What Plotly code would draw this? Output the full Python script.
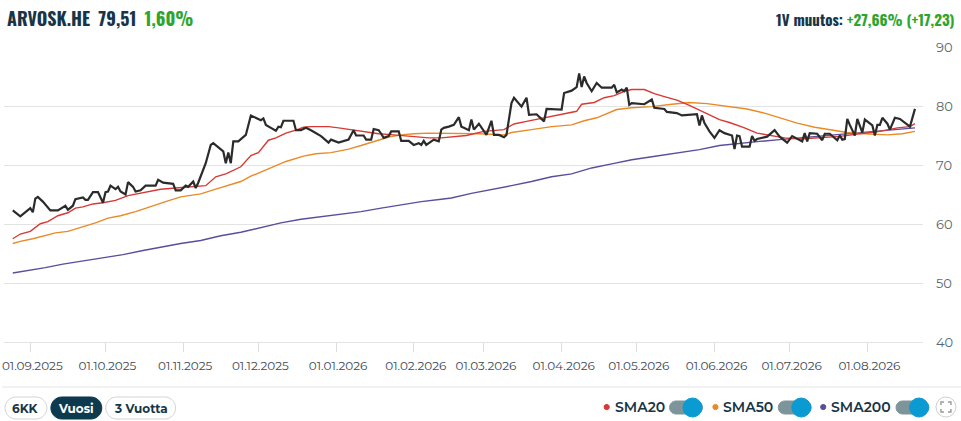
import plotly.graph_objects as go

# price (close)
price_dates = [
    "2025-08-25", "2025-08-28", "2025-09-01", "2025-09-02", "2025-09-03", "2025-09-04", "2025-09-06",
    "2025-09-09", "2025-09-12", "2025-09-15", "2025-09-16", "2025-09-18", "2025-09-19", "2025-09-22",
    "2025-09-23", "2025-09-24", "2025-09-26", "2025-09-28", "2025-09-30", "2025-10-01", "2025-10-02",
    "2025-10-03", "2025-10-05", "2025-10-06", "2025-10-07", "2025-10-09", "2025-10-10", "2025-10-12",
    "2025-10-13", "2025-10-15", "2025-10-17", "2025-10-21", "2025-10-22", "2025-10-24", "2025-10-28",
    "2025-10-29", "2025-10-31", "2025-11-02", "2025-11-03", "2025-11-05", "2025-11-06", "2025-11-07",
    "2025-11-10", "2025-11-12", "2025-11-13", "2025-11-17", "2025-11-18", "2025-11-19", "2025-11-20",
    "2025-11-21", "2025-11-23", "2025-11-25", "2025-11-26", "2025-11-28", "2025-11-30", "2025-12-02",
    "2025-12-03", "2025-12-04", "2025-12-06", "2025-12-08", "2025-12-09", "2025-12-10", "2025-12-11",
    "2025-12-15", "2025-12-16", "2025-12-18", "2025-12-20", "2025-12-22", "2025-12-26", "2025-12-29",
    "2025-12-30", "2026-01-02", "2026-01-06", "2026-01-07", "2026-01-08", "2026-01-09", "2026-01-12",
    "2026-01-13", "2026-01-15", "2026-01-16", "2026-01-18", "2026-01-19", "2026-01-20", "2026-01-22",
    "2026-01-23", "2026-01-26", "2026-01-27", "2026-01-30", "2026-02-01", "2026-02-03", "2026-02-04",
    "2026-02-05", "2026-02-06", "2026-02-09", "2026-02-11", "2026-02-12", "2026-02-13", "2026-02-15",
    "2026-02-17", "2026-02-19", "2026-02-20", "2026-02-21", "2026-02-23", "2026-02-24", "2026-02-25",
    "2026-02-27", "2026-02-28", "2026-03-02", "2026-03-04", "2026-03-05", "2026-03-07", "2026-03-09",
    "2026-03-10", "2026-03-12", "2026-03-13", "2026-03-16", "2026-03-18", "2026-03-19", "2026-03-22",
    "2026-03-25", "2026-03-26", "2026-04-01", "2026-04-02", "2026-04-05", "2026-04-07", "2026-04-08",
    "2026-04-09", "2026-04-10", "2026-04-11", "2026-04-13", "2026-04-15", "2026-04-17", "2026-04-21",
    "2026-04-22", "2026-04-23", "2026-04-25", "2026-04-26", "2026-04-27", "2026-04-28", "2026-04-29",
    "2026-05-04", "2026-05-07", "2026-05-08", "2026-05-12", "2026-05-13", "2026-05-17", "2026-05-19",
    "2026-05-25", "2026-05-26", "2026-05-27", "2026-05-28", "2026-05-30", "2026-06-01", "2026-06-03",
    "2026-06-05", "2026-06-08", "2026-06-09", "2026-06-10", "2026-06-11", "2026-06-12", "2026-06-15",
    "2026-06-16", "2026-06-17", "2026-06-18", "2026-06-22", "2026-06-25", "2026-06-27", "2026-06-30",
    "2026-07-02", "2026-07-04", "2026-07-06", "2026-07-07", "2026-07-08", "2026-07-09", "2026-07-12",
    "2026-07-14", "2026-07-15", "2026-07-17", "2026-07-19", "2026-07-20", "2026-07-21", "2026-07-22",
    "2026-07-23", "2026-07-24", "2026-07-25", "2026-07-27", "2026-07-28", "2026-07-30", "2026-07-31",
    "2026-08-02", "2026-08-03", "2026-08-04", "2026-08-05", "2026-08-06", "2026-08-07", "2026-08-09",
    "2026-08-10", "2026-08-12", "2026-08-14", "2026-08-18", "2026-08-20",
]
price = [
    62.3, 61.3, 62.7, 62.0, 64.3, 64.6, 63.8,
    62.3, 62.3, 63.1, 62.4, 63.1, 64.2, 64.5,
    64.1, 64.1, 65.4, 65.4, 63.6, 65.4, 65.5,
    66.5, 65.9, 66.3, 65.5, 65.0, 67.1, 66.3,
    65.5, 65.7, 66.5, 66.5, 67.5, 67.0, 66.8,
    65.7, 65.7, 66.5, 66.3, 67.2, 66.1, 67.0,
    70.3, 73.4, 73.7, 72.3, 70.3, 72.1, 70.3,
    74.0, 74.0, 74.8, 75.1, 78.4, 78.0, 77.6,
    77.9, 76.8, 76.3, 75.8, 76.5, 76.4, 77.5,
    77.5, 75.9, 75.9, 76.3, 75.9, 74.9, 73.8,
    74.3, 73.8, 74.3, 75.0, 75.9, 75.0, 75.0,
    74.3, 74.3, 76.1, 75.9, 75.3, 74.6, 74.9,
    75.7, 75.7, 74.1, 74.1, 73.4, 73.7, 73.4,
    74.1, 73.4, 74.3, 74.0, 76.0, 76.3, 76.5,
    76.8, 78.1, 76.5, 76.3, 75.9, 77.7, 76.0,
    77.0, 76.3, 75.1, 77.5, 75.1, 75.1, 74.7,
    75.1, 80.5, 81.4, 79.9, 81.4, 78.5, 78.6,
    77.4, 79.5, 79.4, 82.2, 82.6, 83.2, 85.5,
    83.2, 85.0, 83.9, 82.5, 83.9, 83.1, 83.1,
    83.6, 82.3, 82.8, 82.5, 83.1, 80.2, 80.5,
    80.3, 81.1, 79.7, 79.5, 79.0, 78.8, 78.4,
    78.6, 76.7, 78.4, 77.1, 75.7, 74.6, 75.9,
    75.4, 75.0, 72.7, 75.0, 74.9, 73.1, 73.1,
    74.9, 74.1, 74.4, 74.8, 75.9, 74.8, 73.8,
    74.9, 74.4, 74.0, 75.4, 74.0, 75.4, 75.3,
    74.2, 75.3, 75.3, 74.6, 74.2, 75.0, 74.3,
    74.4, 77.8, 76.8, 75.0, 77.8, 75.5, 77.7,
    77.0, 76.7, 75.0, 76.8, 76.8, 78.0, 77.0,
    76.0, 78.0, 77.8, 76.5, 79.51,
]

sma20_dates = [
    "2025-08-25", "2025-08-28", "2025-09-01", "2025-09-05", "2025-09-08", "2025-09-12", "2025-09-16",
    "2025-09-19", "2025-09-22", "2025-09-26", "2025-09-30", "2025-10-05", "2025-10-10", "2025-10-17",
    "2025-10-23", "2025-10-29", "2025-11-03", "2025-11-10", "2025-11-14", "2025-11-18", "2025-11-24",
    "2025-11-28", "2025-12-01", "2025-12-05", "2025-12-08", "2025-12-12", "2025-12-16", "2025-12-19",
    "2025-12-22", "2025-12-29", "2026-01-02", "2026-01-08", "2026-01-12", "2026-01-18", "2026-01-24",
    "2026-02-01", "2026-02-07", "2026-02-12", "2026-02-17", "2026-02-22", "2026-03-01", "2026-03-09",
    "2026-03-10", "2026-03-13", "2026-03-18", "2026-03-25", "2026-03-30", "2026-04-07", "2026-04-09",
    "2026-04-14", "2026-04-18", "2026-04-22", "2026-04-26", "2026-04-29", "2026-05-04", "2026-05-08",
    "2026-05-12", "2026-05-17", "2026-05-22", "2026-05-29", "2026-06-03", "2026-06-07", "2026-06-13",
    "2026-06-18", "2026-06-23", "2026-06-29", "2026-07-05", "2026-07-13", "2026-07-21", "2026-07-29",
    "2026-08-06", "2026-08-13", "2026-08-18", "2026-08-20",
]
sma20 = [
    57.5, 58.3, 58.75, 60.05, 60.4, 61.4, 61.9,
    62.7, 62.9, 63.4, 63.6, 64.0, 64.8, 65.4,
    65.9, 66.1, 66.3, 66.5, 68.0, 68.5, 69.7,
    71.6, 72.1, 74.2, 74.6, 75.4, 75.9, 76.4,
    76.5, 76.5, 76.3, 75.9, 75.7, 75.3, 75.1,
    74.85, 74.6, 74.6, 74.75, 75.0, 75.7, 76.0,
    76.25, 76.95, 77.4, 78.0, 78.4, 79.1, 80.3,
    80.6, 81.4, 81.75, 82.5, 82.8, 82.8, 82.1,
    81.6, 81.0, 80.1, 78.7, 77.7, 77.2, 76.3,
    75.4, 75.0, 74.6, 74.4, 74.6, 74.85, 75.3,
    75.7, 76.3, 76.5, 77.0,
]

sma50_dates = [
    "2025-08-25", "2025-08-28", "2025-09-02", "2025-09-06", "2025-09-11", "2025-09-16", "2025-09-22",
    "2025-09-27", "2025-10-02", "2025-10-07", "2025-10-13", "2025-10-19", "2025-10-25", "2025-10-31",
    "2025-11-08", "2025-11-14", "2025-11-19", "2025-11-24", "2025-11-28", "2025-12-05", "2025-12-12",
    "2025-12-19", "2025-12-24", "2025-12-30", "2026-01-06", "2026-01-11", "2026-01-16", "2026-01-22",
    "2026-01-27", "2026-02-01", "2026-02-07", "2026-02-15", "2026-02-20", "2026-02-27", "2026-03-09",
    "2026-03-12", "2026-03-20", "2026-03-28", "2026-04-05", "2026-04-10", "2026-04-15", "2026-04-19",
    "2026-04-23", "2026-04-29", "2026-05-07", "2026-05-15", "2026-05-22", "2026-05-29", "2026-06-07",
    "2026-06-14", "2026-06-21", "2026-06-27", "2026-07-04", "2026-07-11", "2026-07-17", "2026-07-24",
    "2026-07-31", "2026-08-09", "2026-08-15", "2026-08-20",
]
sma50 = [
    56.7, 57.05, 57.5, 58.0, 58.5, 58.75, 59.5,
    60.2, 61.0, 61.4, 62.1, 63.0, 63.8, 64.6,
    65.1, 65.9, 66.5, 67.2, 68.1, 69.3, 70.6,
    71.5, 71.9, 72.1, 72.7, 73.3, 74.0, 74.75,
    75.1, 75.3, 75.4, 75.4, 75.3, 75.3, 75.1,
    75.5, 76.0, 76.5, 76.8, 77.5, 78.0, 78.7,
    79.4, 79.7, 79.9, 80.3, 80.6, 80.4, 79.9,
    79.5, 78.8, 78.0, 77.1, 76.4, 76.0, 75.5,
    75.3, 75.1, 75.3, 75.7,
]

sma200_dates = [
    "2025-08-25", "2025-08-31", "2025-09-07", "2025-09-14", "2025-09-22", "2025-09-30", "2025-10-08",
    "2025-10-16", "2025-10-23", "2025-10-31", "2025-11-08", "2025-11-16", "2025-11-24", "2025-12-02",
    "2025-12-10", "2025-12-18", "2025-12-26", "2026-01-03", "2026-01-11", "2026-01-19", "2026-01-27",
    "2026-02-04", "2026-02-12", "2026-02-16", "2026-02-24", "2026-03-04", "2026-03-12", "2026-03-20",
    "2026-03-28", "2026-04-05", "2026-04-13", "2026-04-21", "2026-04-29", "2026-05-07", "2026-05-15",
    "2026-05-22", "2026-05-26", "2026-06-03", "2026-06-11", "2026-06-19", "2026-06-27", "2026-07-05",
    "2026-07-13", "2026-07-21", "2026-07-29", "2026-08-06", "2026-08-14", "2026-08-20",
]
sma200 = [
    51.7, 52.1, 52.6, 53.2, 53.7, 54.2, 54.8,
    55.5, 56.1, 56.7, 57.2, 58.0, 58.6, 59.4,
    60.2, 60.8, 61.2, 61.6, 62.1, 62.7, 63.3,
    63.8, 64.2, 64.4, 65.2, 65.8, 66.5, 67.2,
    68.0, 68.5, 69.5, 70.2, 70.9, 71.4, 71.9,
    72.3, 72.6, 73.3, 73.7, 74.0, 74.3, 74.6,
    74.85, 75.1, 75.4, 75.7, 76.0, 76.3,
]

ticker = "ARVOSK.HE"
last_price = "79,51"
day_change = "1,60%"
year_change = "+27,66% (+17,23)"
ranges = ["6KK", "Vuosi", "3 Vuotta"]
sma_names = ["SMA20", "SMA50", "SMA200"]

RED = "#d63a34"
ORANGE = "#ea8a26"
PURPLE = "#5c4d9c"
NAVY = "#183548"
GREEN = "#2ea52e"
FONT = "Montserrat, 'Open Sans', sans-serif"
HEAD_FONT = "Oswald, 'Roboto Condensed', 'Liberation Sans Narrow', 'DejaVu Sans Condensed', Roboto, sans-serif"

# plot area in pixels (961x421 page)
L, R, T, B = 2, 923, 47, 342
W, H = R - L, B - T


def fx(x):
    return (x - L) / W


def fy(y):
    return (B - y) / H


def pt(x, y):
    return f"{fx(x):.5f},{fy(y):.5f}"


def pill(x0, y0, x1, y1):
    r = (y1 - y0) / 2
    k = 0.5523 * r
    ym = (y0 + y1) / 2
    return (f"M {pt(x0 + r, y0)} L {pt(x1 - r, y0)} "
            f"C {pt(x1 - r + k, y0)} {pt(x1, ym - k)} {pt(x1, ym)} "
            f"C {pt(x1, ym + k)} {pt(x1 - r + k, y1)} {pt(x1 - r, y1)} "
            f"L {pt(x0 + r, y1)} "
            f"C {pt(x0 + r - k, y1)} {pt(x0, ym + k)} {pt(x0, ym)} "
            f"C {pt(x0, ym - k)} {pt(x0 + r - k, y0)} {pt(x0 + r, y0)} Z")


def circle(cx, cy, r, fill, line_color=None):
    return dict(type="circle", xref="paper", yref="paper",
                x0=fx(cx - r), x1=fx(cx + r), y0=fy(cy + r), y1=fy(cy - r),
                fillcolor=fill, line=dict(color=line_color or fill, width=1), layer="above")


fig = go.Figure()
fig.add_trace(go.Scatter(x=sma200_dates, y=sma200, mode="lines", line=dict(color=PURPLE, width=1.4)))
fig.add_trace(go.Scatter(x=sma50_dates, y=sma50, mode="lines", line=dict(color=ORANGE, width=1.4)))
fig.add_trace(go.Scatter(x=sma20_dates, y=sma20, mode="lines", line=dict(color=RED, width=1.4)))
fig.add_trace(go.Scatter(x=price_dates, y=price, mode="lines", line=dict(color="#2b2b2b", width=2.2)))

shapes = []
# separator above the controls
shapes.append(dict(type="line", xref="paper", yref="paper", x0=fx(0), x1=fx(961), y0=fy(387), y1=fy(387),
                   line=dict(color="#e4e4e4", width=1)))

# range buttons
btn_boxes = [(3, 45), (49, 100), (104, 174)]
annotations = []
for name, (bx0, bx1) in zip(ranges, btn_boxes):
    active = name == "Vuosi"
    shapes.append(dict(type="path", xref="paper", yref="paper", path=pill(bx0, 397, bx1, 419),
                       fillcolor="#0d3a4e" if active else "white",
                       line=dict(color="#0d3a4e" if active else "#d4d4d4", width=1)))
    annotations.append(dict(xref="paper", yref="paper", x=fx((bx0 + bx1) / 2), y=fy(408),
                            text=name, showarrow=False, xanchor="center", yanchor="middle",
                            font=dict(family=FONT, size=12, weight=700,
                                      color="white" if active else NAVY)))

# sma legend with toggles
sma_colors = [RED, ORANGE, PURPLE]
dot_x = [606, 715, 823]
track_x = [(669, 702), (778, 811), (896, 929)]
for name, col, dx, (tx0, tx1) in zip(sma_names, sma_colors, dot_x, track_x):
    shapes.append(circle(dx, 407, 2.6, col))
    annotations.append(dict(xref="paper", yref="paper", x=fx(dx + 6), y=fy(407), text=name,
                            showarrow=False, xanchor="left", yanchor="middle",
                            font=dict(family=FONT, size=14, weight=600, color=NAVY)))
    shapes.append(dict(type="path", xref="paper", yref="paper", path=pill(tx0, 401, tx1, 414),
                       fillcolor="#7e949b", line=dict(color="#7e949b", width=1)))
    shapes.append(circle(tx1 - 10, 407.5, 9.5, "#0a9bd2"))

# fullscreen icon
shapes.append(circle(946, 407, 10, "white", "#d0d0d0"))
for sx, sy in [(-1, -1), (1, -1), (-1, 1), (1, 1)]:
    cx, cy = 946 + 5 * sx, 407 + 5 * sy
    shapes.append(dict(type="path", xref="paper", yref="paper",
                       path=f"M {pt(cx, cy - 3 * sy)} L {pt(cx, cy)} L {pt(cx - 3 * sx, cy)}",
                       line=dict(color="#9a9a9a", width=1.4)))

# header
annotations += [
    dict(xref="paper", yref="paper", x=fx(3), y=fy(18),
         text=(f"<b>{ticker}</b>&nbsp;&nbsp;<b>{last_price}</b>&nbsp;&nbsp;"
               f"<span style='color:{GREEN}'><b>{day_change}</b></span>"),
         showarrow=False, xanchor="left", yanchor="middle",
         font=dict(family=HEAD_FONT, size=18, color=NAVY)),
    dict(xref="paper", yref="paper", x=fx(957), y=fy(19),
         text=f"<b>1V muutos: </b><span style='color:{GREEN}'><b>{year_change}</b></span>",
         showarrow=False, xanchor="right", yanchor="middle",
         font=dict(family=HEAD_FONT, size=15, color=NAVY)),
]

fig.update_layout(
    width=961, height=421,
    margin=dict(l=L, r=961 - R, t=T, b=421 - B),
    paper_bgcolor="white", plot_bgcolor="white",
    showlegend=False,
    shapes=shapes, annotations=annotations,
    xaxis=dict(
        type="date", range=["2025-08-21 12:00", "2026-08-23 05:00"],
        tick0="2025-09-01", dtick="M1", tickformat="%d.%m.%Y",
        ticks="outside", ticklen=9, tickcolor="#dddddd", tickwidth=1,
        showgrid=False, zeroline=False, showline=True, linecolor="#e3e3e3", linewidth=1,
        tickfont=dict(family=FONT, size=12, color="#3d4a57"),
        ticklabelstandoff=4, ticklabelshift=2, ticklabeloverflow="allow",
    ),
    yaxis=dict(
        range=[40, 90], dtick=10, side="right",
        showgrid=True, gridcolor="#e3e3e3", gridwidth=1,
        zeroline=False, showline=False, ticks="",
        tickfont=dict(family=FONT, size=13, color="#5d6770"),
        ticklabelstandoff=12,
    ),
)

fig.write_html("out.html", config={"displayModeBar": False},
               post_script="document.body.style.margin = '0';")
